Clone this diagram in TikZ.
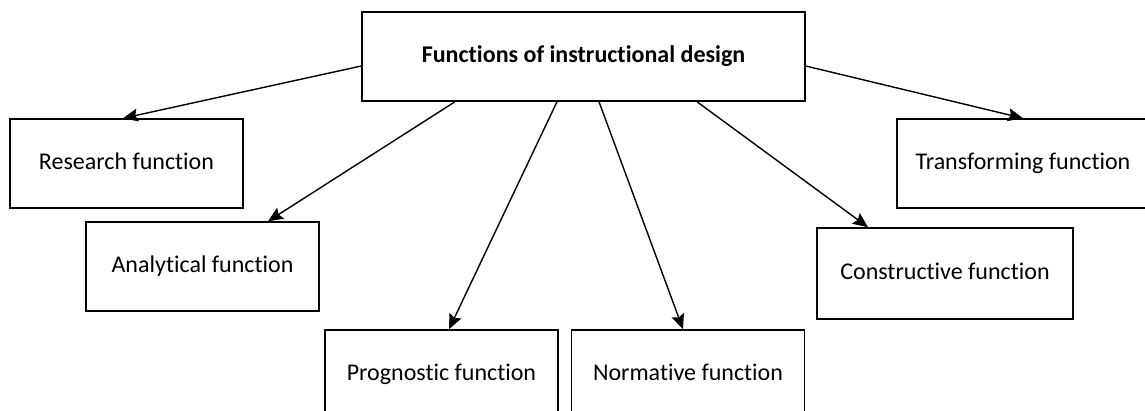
\documentclass[tikz,border=0pt]{standalone}
\usepackage{fontspec}
\setmainfont[Ligatures=NoCommon]{Carlito}
\usetikzlibrary{arrows.meta}
\usetikzlibrary{calc}

\begin{document}
\begin{tikzpicture}[x=1pt,y=-1pt,>={Stealth[length=15pt,width=13pt,inset=2.5pt]}]
\tikzstyle{f}=[rectangle,draw,line width=1.5pt,minimum width=233pt,minimum height=89pt,inner sep=0pt,text height=17pt,text depth=5pt,font=\fontsize{24}{29}\selectfont]
\useasboundingbox (0,0) rectangle (1145,410);
\clip (0,0) rectangle (1145,410);
\node[f,minimum width=443pt,font=\fontsize{24}{29}\selectfont\bfseries] (top) at (583.5,56.5) {Functions of instructional design};
\node[f] (res) at (126.5,163.5) {Research function};
\node[f] (ana) at (202.5,266.5) {Analytical function};
\node[f] (pro) at (441.5,374.5) {Prognostic function};
\node[f] (nor) at (688,374.5) {Normative function};
\node[f,minimum width=256pt,minimum height=91pt] (con) at (945,273.5) {Constructive function};
\node[f,minimum width=252pt] (tra) at (1023,163.5) {Transforming function};
\draw[line width=1.4pt,->] ([yshift=-9.5pt]top.west) to ([xshift=-3.5pt]res.north);
\draw[line width=1.4pt,->] ([xshift=-128.5pt]top.south) to ([xshift=65.5pt]ana.north);
\draw[line width=1.4pt,->] ([xshift=-26.5pt]top.south) to ([xshift=7.5pt]pro.north);
\draw[line width=1.4pt,->] ([xshift=15.5pt]top.south) to ([xshift=-5pt]nor.north);
\draw[line width=1.4pt,->] ([xshift=113.5pt]top.south) to ([xshift=-77pt]con.north);
\draw[line width=1.4pt,->] ([yshift=-9.5pt]top.east) to (tra.north);
\end{tikzpicture}
\end{document}
